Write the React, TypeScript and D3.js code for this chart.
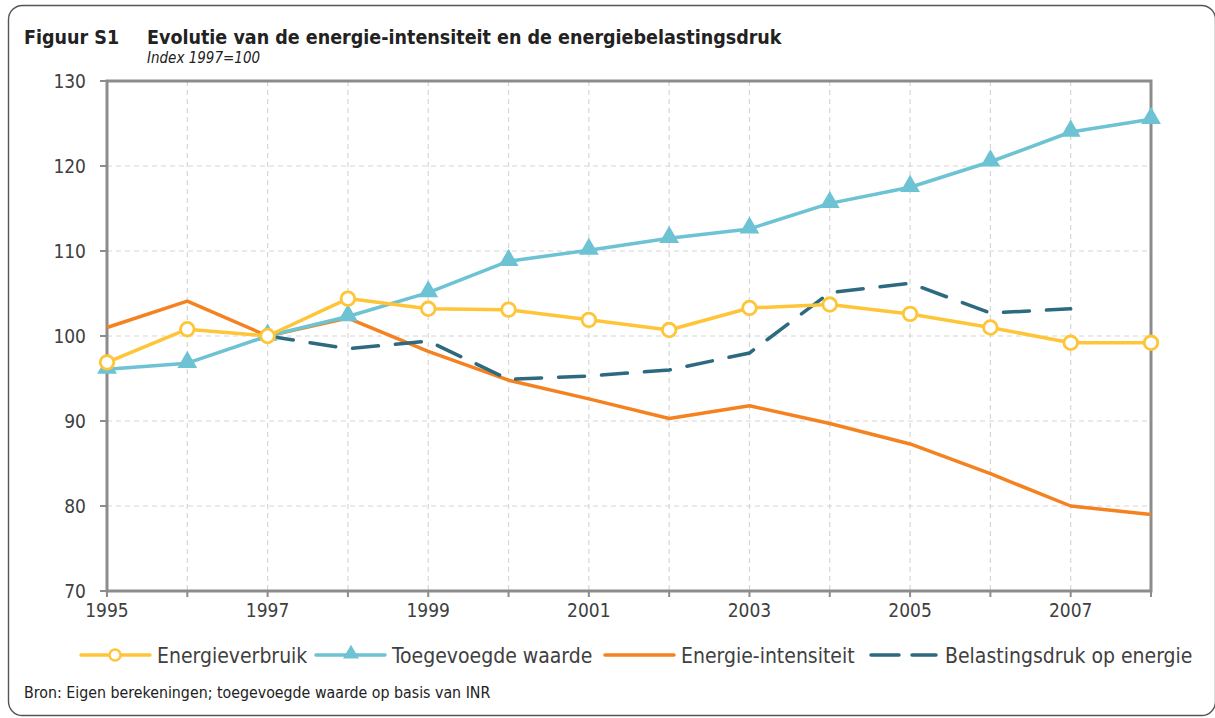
import { useEffect, useRef } from 'react';
import * as d3 from 'd3';

const years = [1995, 1996, 1997, 1998, 1999, 2000, 2001, 2002, 2003, 2004, 2005, 2006, 2007, 2008];
const energieverbruik = [96.9, 100.8, 100, 104.4, 103.2, 103.1, 101.9, 100.7, 103.3, 103.7, 102.6, 101.0, 99.2, 99.2];
const toegevoegdeWaarde = [96.1, 96.8, 100, 102.3, 105.1, 108.8, 110.1, 111.5, 112.6, 115.6, 117.5, 120.5, 124.0, 125.5];
const energieIntensiteit = [101.0, 104.1, 100, 102.1, 98.2, 94.8, 92.6, 90.3, 91.8, 89.7, 87.3, 83.8, 80.0, 79.0];
const belastingsdruk = [null, null, 100, 98.5, 99.4, 94.9, 95.3, 96.0, 98.0, 105.1, 106.2, 102.7, 103.2, null];
const yTicks = [70, 80, 90, 100, 110, 120, 130];
const xLabelYears = [1995, 1997, 1999, 2001, 2003, 2005, 2007];

const FONT = '"DejaVu Sans Condensed", "DejaVu Sans", sans-serif';
const C_YELLOW = '#FFC538';
const C_BLUE = '#6DC2D3';
const C_ORANGE = '#F58220';
const C_TEAL = '#2D6A80';
const C_AXIS = '#8c8c8c';

export default function App() {
  const svgRef = useRef<SVGSVGElement>(null);

  useEffect(() => {
    const root = d3.select(svgRef.current);
    root.selectAll('*').remove();

    const W = 1215, H = 718;
    const left = 107, right = 1151, top = 81, bottom = 591;

    // outer frame
    root.append('rect')
      .attr('x', 8.5).attr('y', 5.5).attr('width', W - 8).attr('height', H - 8)
      .attr('rx', 14)
      .attr('fill', 'white').attr('stroke', '#555').attr('stroke-width', 1.4);

    root.append('text')
      .attr('x', 24).attr('y', 44)
      .attr('font-family', FONT).attr('font-size', 19.5).attr('font-weight', 'bold').attr('fill', '#222')
      .text('Figuur S1');
    root.append('text')
      .attr('x', 147).attr('y', 44)
      .attr('font-family', FONT).attr('font-size', 19.5).attr('font-weight', 'bold').attr('fill', '#222')
      .text('Evolutie van de energie-intensiteit en de energiebelastingsdruk');
    root.append('text')
      .attr('x', 147).attr('y', 63)
      .attr('font-family', FONT).attr('font-size', 15).attr('font-style', 'italic').attr('fill', '#222')
      .text('Index 1997=100');

    const x = d3.scaleLinear().domain([1995, 2008]).range([left, right]);
    const y = d3.scaleLinear().domain([70, 130]).range([bottom, top]);

    const g = root.append('g');

    // grid
    g.selectAll('.vgrid')
      .data(years.slice(1, -1))
      .join('line')
      .attr('x1', d => x(d)).attr('x2', d => x(d))
      .attr('y1', top).attr('y2', bottom)
      .attr('stroke', '#d6d6d6').attr('stroke-width', 1.2).attr('stroke-dasharray', '5,4');
    g.selectAll('.hgrid')
      .data(yTicks.slice(1, -1))
      .join('line')
      .attr('x1', left).attr('x2', right)
      .attr('y1', d => y(d)).attr('y2', d => y(d))
      .attr('stroke', '#d6d6d6').attr('stroke-width', 1.2).attr('stroke-dasharray', '5,4');

    // plot frame
    g.append('rect')
      .attr('x', left).attr('y', top).attr('width', right - left).attr('height', bottom - top)
      .attr('fill', 'none').attr('stroke', C_AXIS).attr('stroke-width', 3);

    // y ticks
    g.selectAll('.ytick')
      .data(yTicks)
      .join('line')
      .attr('x1', left - 7).attr('x2', left)
      .attr('y1', d => y(d)).attr('y2', d => y(d))
      .attr('stroke', C_AXIS).attr('stroke-width', 2);
    g.selectAll('.ylabel')
      .data(yTicks)
      .join('text')
      .attr('x', left - 21).attr('y', d => y(d) + 6.5)
      .attr('text-anchor', 'end')
      .attr('font-family', FONT).attr('font-size', 19).attr('fill', '#404040')
      .text(d => d);

    // x ticks
    g.selectAll('.xtick')
      .data(years)
      .join('line')
      .attr('x1', d => x(d)).attr('x2', d => x(d))
      .attr('y1', bottom).attr('y2', bottom + 6)
      .attr('stroke', C_AXIS).attr('stroke-width', 2);
    g.selectAll('.xlabel')
      .data(xLabelYears)
      .join('text')
      .attr('x', d => x(d)).attr('y', bottom + 26)
      .attr('text-anchor', 'middle')
      .attr('font-family', FONT).attr('font-size', 19).attr('fill', '#404040')
      .text(d => d);

    const line = d3.line<number | null>()
      .defined(d => d !== null)
      .x((d, i) => x(years[i]))
      .y(d => y(d as number));

    const triangle = d3.symbol().type(d3.symbolTriangle).size(170);

    // Energie-intensiteit
    g.append('path')
      .attr('d', line(energieIntensiteit))
      .attr('fill', 'none').attr('stroke', C_ORANGE).attr('stroke-width', 3.5).attr('stroke-linejoin', 'round');

    // Belastingsdruk
    g.append('path')
      .attr('d', line(belastingsdruk))
      .attr('fill', 'none').attr('stroke', C_TEAL).attr('stroke-width', 3.5)
      .attr('stroke-dasharray', '26,17').attr('stroke-linecap', 'round');

    // Toegevoegde waarde
    g.append('path')
      .attr('d', line(toegevoegdeWaarde))
      .attr('fill', 'none').attr('stroke', C_BLUE).attr('stroke-width', 3.5).attr('stroke-linejoin', 'round');
    g.selectAll('.tri')
      .data(toegevoegdeWaarde)
      .join('path')
      .attr('d', triangle)
      .attr('transform', (d, i) => `translate(${x(years[i])},${y(d) - 1})`)
      .attr('fill', C_BLUE);

    // Energieverbruik
    g.append('path')
      .attr('d', line(energieverbruik))
      .attr('fill', 'none').attr('stroke', C_YELLOW).attr('stroke-width', 3.5).attr('stroke-linejoin', 'round');
    g.selectAll('.circ')
      .data(energieverbruik)
      .join('circle')
      .attr('cx', (d, i) => x(years[i])).attr('cy', d => y(d))
      .attr('r', 6.8)
      .attr('fill', 'white').attr('stroke', C_YELLOW).attr('stroke-width', 2.8);

    // legend
    const ly = 655;
    const legend = [
      { label: 'Energieverbruik', color: C_YELLOW, x0: 81, marker: 'circle', dash: null },
      { label: 'Toegevoegde waarde', color: C_BLUE, x0: 316, marker: 'triangle', dash: null },
      { label: 'Energie-intensiteit', color: C_ORANGE, x0: 605, marker: null, dash: null },
      { label: 'Belastingsdruk op energie', color: C_TEAL, x0: 869, marker: null, dash: '28,13' },
    ];
    legend.forEach(item => {
      const lg = root.append('g');
      lg.append('line')
        .attr('x1', item.dash ? item.x0 + 2 : item.x0).attr('x2', item.dash ? item.x0 + 67 : item.x0 + 69)
        .attr('y1', ly).attr('y2', ly)
        .attr('stroke', item.color).attr('stroke-width', 3.5)
        .attr('stroke-dasharray', item.dash)
        .attr('stroke-linecap', 'round');
      if (item.marker === 'circle') {
        lg.append('circle')
          .attr('cx', item.x0 + 34).attr('cy', ly).attr('r', 5.5)
          .attr('fill', 'white').attr('stroke', item.color).attr('stroke-width', 2.4);
      }
      if (item.marker === 'triangle') {
        lg.append('path')
          .attr('d', d3.symbol().type(d3.symbolTriangle).size(110)())
          .attr('transform', `translate(${item.x0 + 35},${ly - 1})`)
          .attr('fill', item.color);
      }
      lg.append('text')
        .attr('x', item.x0 + 76).attr('y', ly + 8)
        .attr('font-family', FONT).attr('font-size', 21).attr('fill', '#404040')
        .text(item.label);
    });

    root.append('text')
      .attr('x', 24).attr('y', 698)
      .attr('font-family', FONT).attr('font-size', 15.8).attr('fill', '#222')
      .text('Bron: Eigen berekeningen; toegevoegde waarde op basis van INR');
  }, []);

  return (
    <svg ref={svgRef} width={1215} height={718}
      style={{ position: 'absolute', left: 0, top: 0, display: 'block' }} />
  );
}
